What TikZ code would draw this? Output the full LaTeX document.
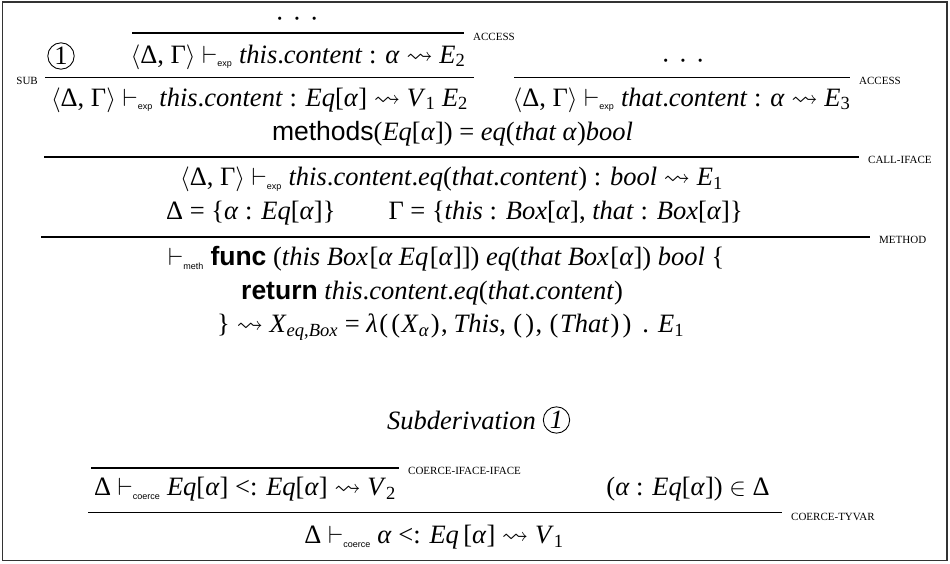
\documentclass[tikz,border=0pt]{standalone}
\usepackage{amssymb}
\usepackage{fontspec}
\setmainfont{Liberation Serif}
\setsansfont{Liberation Sans}
\setmonofont{Liberation Mono}
\newcommand\fsmain{\fontsize{26.5}{32}\selectfont}
\newcommand\vd[1]{\ensuremath{\vdash_{\mbox{\fontsize{9}{9}\selectfont\sffamily #1}}}}
\newcommand\sqto{\ensuremath{\leadsto}}
\newcommand\DG{\ensuremath{\langle}Δ, Γ\ensuremath{\rangle}}
\newcommand\iv[1]{\textit{#1}}
\newcommand\sbs[1]{\textsubscript{#1}}
\newcommand\ldts{·\hspace{0.32em}·\hspace{0.32em}·}
\newcommand\cs{,\hspace{0.22em}}
\newcommand\wpar[1]{\makebox[0.45em]{#1}}
\tikzset{
  txt/.style={inner sep=0pt, font=\fsmain},
  lbl/.style={inner sep=0pt, font=\fontsize{11}{11}\selectfont, anchor=west},
  lblr/.style={inner sep=0pt, font=\fontsize{11}{11}\selectfont, anchor=east},
  rulel/.style={line width=1.1pt},
  circ/.style={circle, draw, line width=0.9pt, inner sep=1.6pt, font=\fsmain}
}
\begin{document}
\begin{tikzpicture}[x=1pt,y=-1pt]
\useasboundingbox (0,0) rectangle (950,563);
\draw[line width=1.3pt, black!80] (2.5,2) rectangle (947,560.5);
% ---- upper derivation ----
\node[txt, anchor=base] (dots1) at (297,27) {\ldts};
\node[circ] (c1) at (61,56) {1};
\node[txt] (p1) at (298,57) {\DG\ \vd{exp} \iv{this}.\iv{content} : \iv{α} \sqto\ \iv{E}\sbs{2}};
\coordinate (l1a) at (132,33); \coordinate (l1b) at (464,33);
\draw[rulel] (l1a) -- (l1b);
\node[lbl] (acc1) at (473,36.5) {ACCESS};
\node[lblr] (sub) at (38,81) {SUB};
\coordinate (l2a) at (45,77.5); \coordinate (l2b) at (474,77.5);
\draw[rulel] (l2a) -- (l2b);
\node[txt] (c2) at (259.5,100) {\DG\ \vd{exp} \iv{this}.\iv{content} : \iv{Eq}[\iv{α}] \sqto\ \iv{V}\sbs{1} \iv{E}\sbs{2}};
\node[txt, anchor=base] (dots2) at (683,69) {\ldts};
\coordinate (l3a) at (514,77.5); \coordinate (l3b) at (850,77.5);
\draw[rulel] (l3a) -- (l3b);
\node[lbl] (acc2) at (859,81) {ACCESS};
\node[txt] (p2) at (681.5,100) {\DG\ \vd{exp} \iv{that}.\iv{content} : \iv{α} \sqto\ \iv{E}\sbs{3}};
\node[txt] (meth) at (452.5,134) {\textsf{methods}(\iv{Eq}[\iv{α}]) = \iv{eq}(\iv{that α})\iv{bool}};
\coordinate (l4a) at (44,157); \coordinate (l4b) at (859,157);
\draw[rulel] (l4a) -- (l4b);
\node[lbl] (call) at (868,160) {CALL-IFACE};
\node[txt] (c3) at (451.5,179.5) {\DG\ \vd{exp} \iv{this}.\iv{content}.\iv{eq}(\iv{that}.\iv{content}) : \iv{bool} \sqto\ \iv{E}\sbs{1}};
\node[txt] (ctx) at (454.5,213) {Δ = \{\iv{α} : \iv{Eq}[\iv{α}]\}\hspace{2em}Γ = \{\iv{this} : \iv{Box}[\iv{α}], \iv{that} : \iv{Box}[\iv{α}]\}};
\coordinate (l5a) at (41,237); \coordinate (l5b) at (870,237);
\draw[rulel] (l5a) -- (l5b);
\node[lbl] (mrule) at (879,240) {METHOD};
\node[txt, anchor=west] (func) at (168,258.5) {\vd{meth} \textsf{\bfseries func} (\iv{this Box}\kern1.5pt[\iv{α Eq}\kern1.5pt[\iv{α}]]) \iv{eq}(\iv{that Box}\kern1.5pt[\iv{α}]) \iv{bool} \{};
\node[txt, anchor=west] (ret) at (241,293) {\textsf{\bfseries return} \iv{this}.\iv{content}.\iv{eq}(\iv{that}.\iv{content})};
\node[txt, anchor=west] (lam) at (217,327) {\} \sqto\ \iv{X}\sbs{\iv{eq},\iv{Box}} = \iv{λ}\wpar{(}\wpar{(}\iv{X}\sbs{\iv{α}}\wpar{)}\cs\iv{This}\cs\wpar{(}\wpar{)}\cs\wpar{(}\iv{That}\wpar{)}\wpar{)}\hspace{0.35em}.\hspace{0.35em}\iv{E}\sbs{1}};
% ---- subderivation ----
\node[txt, anchor=east] (subd) at (536,420) {\iv{Subderivation}};
\node[circ, font=\fsmain\itshape] (c1b) at (556.5,420) {1};
\node[txt] (q1) at (245,489) {Δ \vd{coerce} \iv{Eq}[\iv{α}] <: \iv{Eq}[\iv{α}] \sqto\ \iv{V}\sbs{2}};
\coordinate (l6a) at (91,468); \coordinate (l6b) at (399,468);
\draw[rulel] (l6a) -- (l6b);
\node[lbl] (cii) at (408,471) {COERCE-IFACE-IFACE};
\node[txt] (q2) at (688,489) {(\iv{α} : \iv{Eq}[\iv{α}]) \ensuremath{\in} Δ};
\coordinate (l7a) at (88,512.5); \coordinate (l7b) at (782,512.5);
\draw[rulel] (l7a) -- (l7b);
\node[lbl] (ctv) at (791,516.5) {COERCE-TYVAR};
\node[txt] (q3) at (434,537) {Δ \vd{coerce} \iv{α} <: \iv{Eq}\,[\iv{α}] \sqto\ \iv{V}\sbs{1}};
\end{tikzpicture}
\end{document}
